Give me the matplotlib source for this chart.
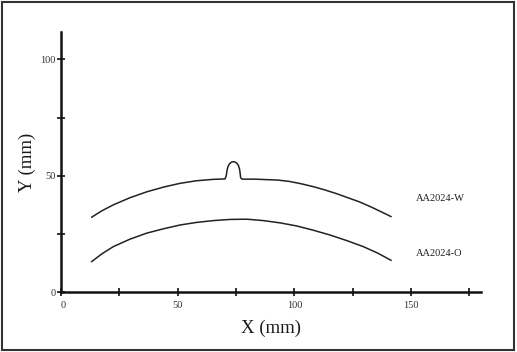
import matplotlib
matplotlib.use("Agg")
import matplotlib.pyplot as plt
from matplotlib.patches import Rectangle

# curve AA2024-W (with the small bump near the middle)
w_x = [12.9, 17.5, 22.3, 29.5, 36.9, 44.0, 51.0, 58.0, 65.1, 70.3,
       70.8, 71.1, 71.5, 72.2, 73.2, 74.2, 75.2, 76.0, 76.5, 76.8, 77.0, 77.6,
       83.0, 88.0, 93.0, 98.0, 103.0, 108.0, 113.0, 118.0, 123.0, 128.0,
       133.0, 138.0, 141.7]
w_y = [32.1, 35.0, 37.5, 40.6, 43.2, 45.2, 46.8, 47.9, 48.5, 48.7,
       50.0, 52.0, 53.8, 55.2, 56.0, 56.1, 55.6, 54.6, 53.0, 51.0, 49.2, 48.6,
       48.6, 48.4, 48.2, 47.6, 46.6, 45.4, 44.0, 42.4, 40.6, 38.8,
       36.6, 34.2, 32.4]

# curve AA2024-O
o_x = [12.9, 17.5, 22.4, 29.5, 36.7, 44.0, 51.0, 58.0, 65.3, 72.5, 79.6, 86.7,
       94.0, 101.0, 108.0, 115.3, 122.5, 129.6, 135.8, 141.7]
o_y = [13.0, 16.5, 19.6, 22.8, 25.4, 27.3, 28.9, 30.0, 30.8, 31.3, 31.4, 30.8,
       29.8, 28.5, 26.7, 24.6, 22.2, 19.6, 16.8, 13.6]

labels = ["AA2024-W", "AA2024-O"]
label_pos = [(152.2, 40.5), (152.2, 16.5)]

plt.rcParams['font.family'] = ['Liberation Serif', 'DejaVu Serif']

fig = plt.figure(figsize=(5.17, 3.52), dpi=100)
ax = fig.add_axes([61 / 517, (352 - 292.3) / 352, (481 - 61) / 517, (292.3 - 32) / 352])

ax.plot(w_x, w_y, color='#222222', lw=1.1, solid_capstyle='butt', solid_joinstyle='round')
ax.plot(o_x, o_y, color='#222222', lw=1.1, solid_capstyle='butt', solid_joinstyle='round')

for txt, (tx, ty) in zip(labels, label_pos):
    ax.text(tx, ty, txt, fontsize=7.5, color='#222222', va='center', ha='left')

ax.set_xlim(0, 180)
ax.set_ylim(0, 111.8)

ax.spines['top'].set_visible(False)
ax.spines['right'].set_visible(False)
for s in ['left', 'bottom']:
    ax.spines[s].set_linewidth(1.8)
    ax.spines[s].set_color('#111111')

ax.set_xticks([0, 50, 100, 150])
ax.set_xticks([25, 75, 125, 175], minor=True)
ax.set_yticks([0, 50, 100])
ax.set_yticks([25, 75], minor=True)
ax.tick_params(which='both', direction='inout', length=6, width=1.2, colors='#111111',
               labelsize=7.5, labelcolor='#333333')
ax.tick_params(axis='x', pad=3)
ax.tick_params(axis='y', pad=1)
ax.get_xticklabels()[0].set_horizontalalignment('left')

ax.set_xlabel("X (mm)", fontsize=13.5, color='#1a1a1a', labelpad=7)
ax.set_ylabel("Y (mm)", fontsize=13.5, color='#1a1a1a', labelpad=3)

# outer frame around the whole figure
fig.patches.append(Rectangle((1.5 / 517, 2 / 352), 512 / 517, 348.5 / 352,
                             transform=fig.transFigure, fill=False,
                             edgecolor='#333333', lw=1.5))

fig.savefig("out.png", dpi=100)
